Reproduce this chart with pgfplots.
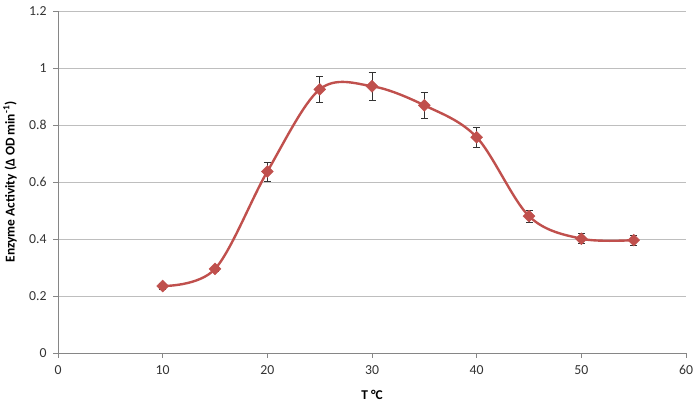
\documentclass[border=0pt]{standalone}
\usepackage{pgfplots}
\pgfplotsset{compat=1.18}
\usepackage{fontspec}
\setmainfont{Carlito}
\definecolor{exred}{HTML}{C0504D}
\definecolor{gridgray}{HTML}{BEBEBE}
\definecolor{axgray}{HTML}{868686}
\begin{document}
\begin{tikzpicture}
\begin{axis}[
  name=ax,
  scale only axis, width=628bp, height=342bp,
  xmin=0, xmax=60, ymin=0, ymax=1.2,
  xtick={0,10,...,60}, ytick={0,0.2,0.4,0.6,0.8,1,1.2},
  yticklabels={0,0.2,0.4,0.6,0.8,1,1.2},
  axis lines=left, axis line style={-, draw=axgray, line width=0.75bp},
  ymajorgrids, grid style={draw=gridgray, line width=0.9bp},
  tick align=outside, major tick length=5bp,
  tick style={draw=axgray, line width=0.75bp},
  xtick pos=bottom, ytick pos=left,
  font=\fontsize{13.5}{16}\selectfont,
  /pgf/number format/assume math mode=true,
  ticklabel style={font=\fontsize{13.8}{16}\selectfont, text=black!80},
  xticklabel style={yshift=-4bp},
  yticklabel style={xshift=-3bp},
  xlabel={\bfseries T °C},
  ylabel={\bfseries Enzyme Activity (Δ OD min\textsuperscript{-1})},
  every axis x label/.style={at={(axis description cs:0.5,0)}, anchor=center, yshift=-42bp},
  every axis y label/.style={at={(axis description cs:0,0.5)}, xshift=-48bp, rotate=90, anchor=center},
  clip=false,
]
\addplot[exred, line width=2.4bp, smooth, tension=0.55,
  mark=square*, mark size=4.2bp, mark options={rotate=45, fill=exred, draw=exred, line width=0.5bp},
  error bars/.cd, y dir=both, y explicit,
  error bar style={draw=black!80, line width=0.7bp},
  error mark options={rotate=90, draw=black!80, mark size=3.5bp, line width=0.7bp}]
  table[x=x, y=y, y error=e] {
  x  y     e
  10 0.235 0.010
  15 0.295 0.010
  20 0.637 0.033
  25 0.925 0.046
  30 0.936 0.049
  35 0.869 0.044
  40 0.757 0.036
  45 0.480 0.022
  50 0.401 0.018
  55 0.396 0.018
  };
\end{axis}
\path ([shift={(-58bp,-53bp)}]ax.south west) rectangle ([shift={(14bp,11bp)}]ax.north east);
\end{tikzpicture}
\end{document}
